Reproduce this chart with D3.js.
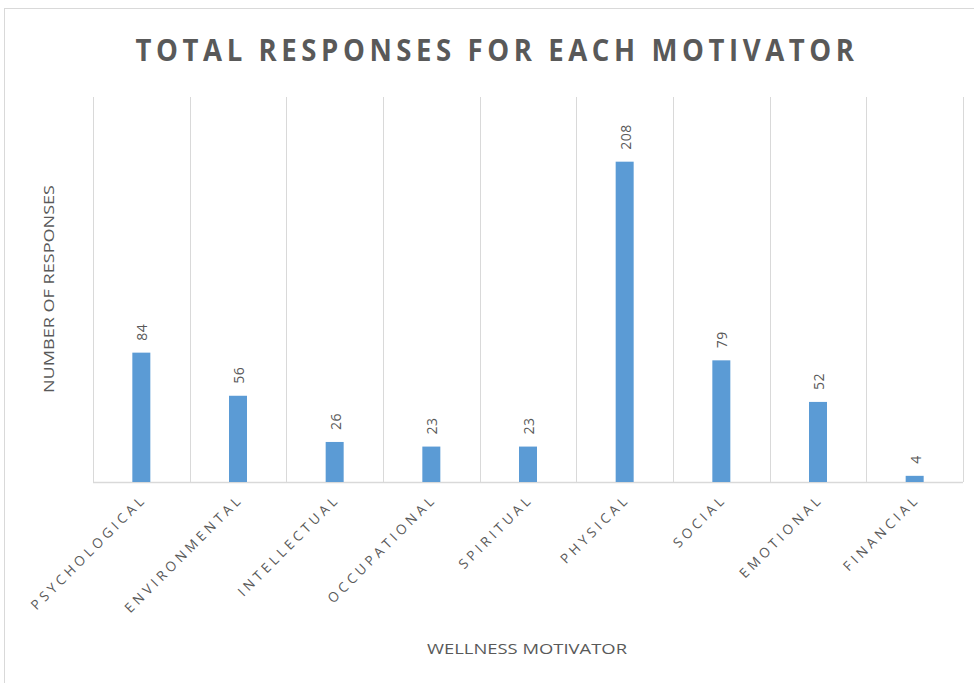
<!DOCTYPE html>
<html><head><meta charset="utf-8">
<script src="https://cdn.jsdelivr.net/npm/d3@7"></script>
<style>body{margin:0;background:#fff}</style>
</head><body>
<svg id="c" width="974" height="683"></svg>
<script>
const categories = ["PSYCHOLOGICAL","ENVIRONMENTAL","INTELLECTUAL","OCCUPATIONAL","SPIRITUAL","PHYSICAL","SOCIAL","EMOTIONAL","FINANCIAL"];
const values = [84,56,26,23,23,208,79,52,4];
const yDomain = [0,250];

const svg = d3.select("#c");
const grey = "#595959";
const font = "'Open Sans', 'Noto Sans', sans-serif";
const m = {left:93, right:963, top:97, bottom:482};

svg.append("rect").attr("x",4.5).attr("y",8.5).attr("width",980).attr("height",690)
  .attr("fill","none").attr("stroke","#d9d9d9");

const x = d3.scaleBand().domain(categories).range([m.left,m.right]).paddingInner(0).paddingOuter(0);
const y = d3.scaleLinear().domain(yDomain).range([m.bottom,m.top]);

const bounds = categories.map(c=>x(c)).concat([m.right]);
svg.append("g").selectAll("line").data(bounds).join("line")
  .attr("x1",d=>Math.round(d)+0.5).attr("x2",d=>Math.round(d)+0.5)
  .attr("y1",m.top).attr("y2",m.bottom)
  .attr("stroke","#d9d9d9").attr("stroke-width",1);

svg.append("line").attr("x1",m.left).attr("x2",m.right).attr("y1",m.bottom+0.5).attr("y2",m.bottom+0.5)
  .attr("stroke","#d9d9d9").attr("stroke-width",1.5);

const bw = 18;
svg.append("g").selectAll("rect").data(values).join("rect")
  .attr("x",(d,i)=>x(categories[i])+x.bandwidth()/2-bw/2)
  .attr("width",bw)
  .attr("y",d=>y(d))
  .attr("height",d=>m.bottom-y(d))
  .attr("fill","#5b9bd5");

svg.append("g").selectAll("text").data(values).join("text")
  .attr("transform",(d,i)=>`translate(${x(categories[i])+x.bandwidth()/2+6},${y(d)-12}) rotate(-90)`)
  .attr("text-anchor","start")
  .attr("font-family",font).attr("font-size",14).attr("fill",grey)
  .attr("letter-spacing","0.5px")
  .text(d=>d);

svg.append("g").selectAll("text").data(categories).join("text")
  .attr("transform",d=>`translate(${x(d)+x.bandwidth()/2+6},${m.bottom+18}) rotate(-45)`)
  .attr("text-anchor","end")
  .attr("font-family",font).attr("font-size",13.5).attr("fill",grey)
  .attr("letter-spacing","3.8px")
  .text(d=>d);

svg.append("text").attr("x",497).attr("y",61).attr("text-anchor","middle")
  .attr("font-family",font).attr("font-size",30).attr("font-weight","bold").attr("fill",grey)
  .attr("letter-spacing","5px")
  .attr("textLength",723).attr("lengthAdjust","spacingAndGlyphs")
  .text("TOTAL RESPONSES FOR EACH MOTIVATOR");

svg.append("text").attr("transform","translate(54,289) rotate(-90)").attr("text-anchor","middle")
  .attr("font-family",font).attr("font-size",14).attr("fill",grey)
  .attr("textLength",208).attr("lengthAdjust","spacingAndGlyphs")
  .text("NUMBER OF RESPONSES");

svg.append("text").attr("x",527).attr("y",654).attr("text-anchor","middle")
  .attr("font-family",font).attr("font-size",14).attr("fill",grey)
  .attr("textLength",200).attr("lengthAdjust","spacingAndGlyphs")
  .text("WELLNESS MOTIVATOR");
</script>
</body></html>
